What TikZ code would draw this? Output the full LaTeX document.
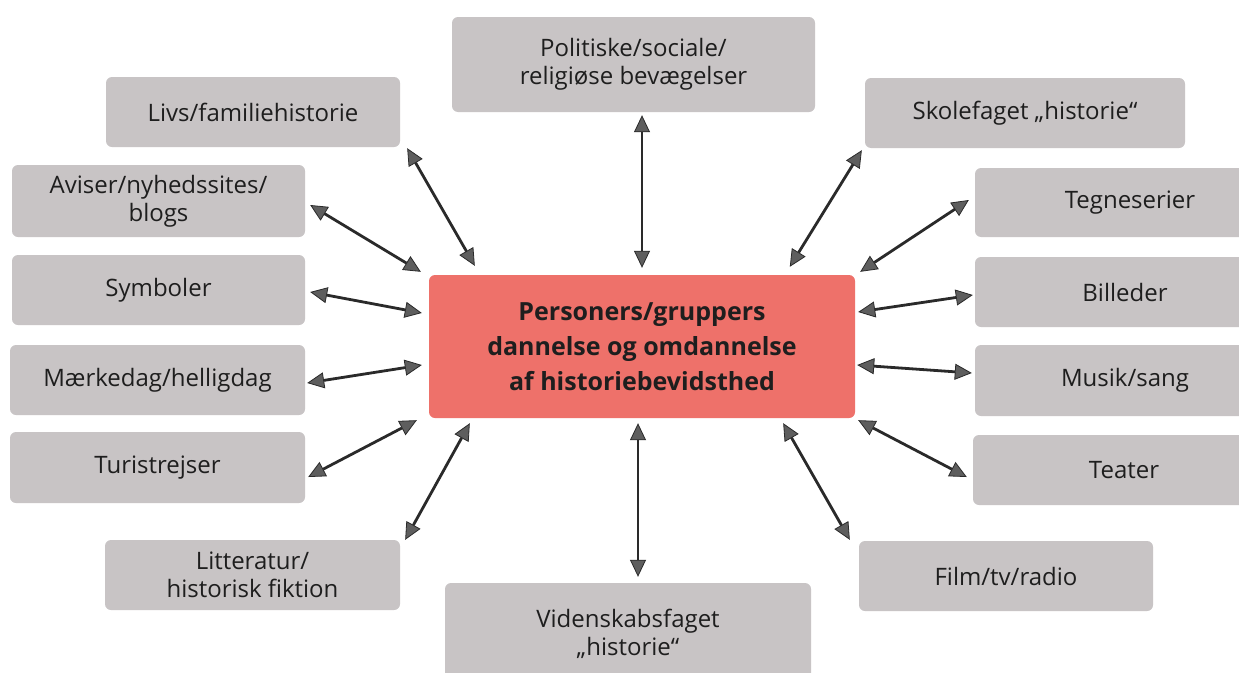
\documentclass[tikz,border=0pt]{standalone}
\usepackage{fontspec}
\setmainfont{Open Sans}
\usetikzlibrary{arrows.meta,calc}
\definecolor{boxgray}{HTML}{C8C4C5}
\definecolor{ctrred}{HTML}{EE716A}
\definecolor{linedark}{HTML}{2A2A2A}
\definecolor{tipgray}{HTML}{5E5E5E}
\definecolor{txt}{HTML}{1E1E1E}
\tikzset{
  gbox/.style={fill=boxgray, rounded corners=6pt, inner sep=0pt, align=center,
    text=txt, font=\fontsize{24}{28}\selectfont},
  cbox/.style={fill=ctrred, rounded corners=6pt, inner sep=0pt, align=center,
    text=txt, font=\bfseries\fontsize{25}{35}\selectfont},
  conn/.style={draw=linedark, line width=2.8pt,
    {Triangle[length=17pt,width=16pt,fill=tipgray,line width=0.8pt]}-{Triangle[length=17pt,width=16pt,fill=tipgray,line width=0.8pt]}}
}
\begin{document}
\begin{tikzpicture}[x=1pt,y=-1pt]
\useasboundingbox (0,0) rectangle (1239,672);
\fill[white] (0,0) rectangle (1239,672);
% center
\node[cbox, minimum width=426pt, minimum height=143pt] (ctr) at (642,346.5)
  {Personers/gruppers\\dannelse og omdannelse\\af historiebevidsthed};
% surrounding boxes
\node[gbox, minimum width=363pt, minimum height=95pt] (pol) at (633.5,64.5) {Politiske/sociale/\\religiøse bevægelser};
\node[gbox, minimum width=294pt, minimum height=70pt] (livs) at (253,112) {Livs/familiehistorie};
\node[gbox, minimum width=320pt, minimum height=70pt] (skole) at (1025,113) {Skolefaget „historie“};
\node[gbox, minimum width=293pt, minimum height=72pt] (avis) at (158.5,201) {Aviser/nyhedssites/\\blogs};
\node[gbox, minimum width=310pt, minimum height=69pt, text width=290pt] (tegn) at (1130,202.5) {Tegneserier};
\node[gbox, minimum width=293pt, minimum height=70pt] (sym) at (158.5,290) {Symboler};
\node[gbox, minimum width=300pt, minimum height=70pt] (bill) at (1125,292) {Billeder};
\node[gbox, minimum width=295pt, minimum height=70pt] (mark) at (157.5,380) {Mærkedag/helligdag};
\node[gbox, minimum width=300pt, minimum height=71pt] (musik) at (1125,380.5) {Musik/sang};
\node[gbox, minimum width=295pt, minimum height=71pt] (turi) at (157.5,467.5) {Turistrejser};
\node[gbox, minimum width=302pt, minimum height=70pt] (teat) at (1124,470) {Teater};
\node[gbox, minimum width=295pt, minimum height=70pt] (litt) at (252.5,575) {Litteratur/\\historisk fiktion};
\node[gbox, minimum width=294pt, minimum height=70pt] (film) at (1006,576) {Film/tv/radio};
\node[gbox, minimum width=366pt, minimum height=102pt] (vid) at (628,634) {Videnskabsfaget\\„historie“};
% connectors
\draw[conn] ($(pol.south)+(8.5,3)$) -- ($(ctr.north)+(0,-7)$);
\draw[conn] ($(livs.south east)+(7,1)$) -- ($(ctr.north west)+(46,-9)$);
\draw[conn] ($(skole.south west)+(-3,2)$) -- ($(ctr.north west)+(361,-8)$);
\draw[conn] ($(avis.east)+(5,4)$) -- ($(ctr.north west)+(-8,-3)$);
\draw[conn] ($(tegn.west)+(-6,-2.5)$) -- ($(ctr.north east)+(5,-3)$);
\draw[conn] ($(sym.east)+(5,2)$) -- ($(ctr.west)+(-7,-33.5)$);
\draw[conn] ($(bill.west)+(-2,3)$) -- ($(ctr.east)+(3,-34.5)$);
\draw[conn] ($(mark.east)+(2,3)$) -- ($(ctr.west)+(-7,18.5)$);
\draw[conn] ($(musik.west)+(-3,-7.5)$) -- ($(ctr.east)+(2,18.5)$);
\draw[conn] ($(turi.east)+(3,9.5)$) -- ($(ctr.south west)+(-12,2)$);
\draw[conn] ($(teat.west)+(-6,7)$) -- ($(ctr.south east)+(3,2)$);
\draw[conn] ($(litt.north east)+(5,0)$) -- ($(ctr.south west)+(41,5)$);
\draw[conn] ($(film.north west)+(-9,-1)$) -- ($(ctr.south east)+(-72,5)$);
\draw[conn] ($(vid.north)+(10,-6)$) -- ($(ctr.south)+(-4,5)$);
\end{tikzpicture}
\end{document}
